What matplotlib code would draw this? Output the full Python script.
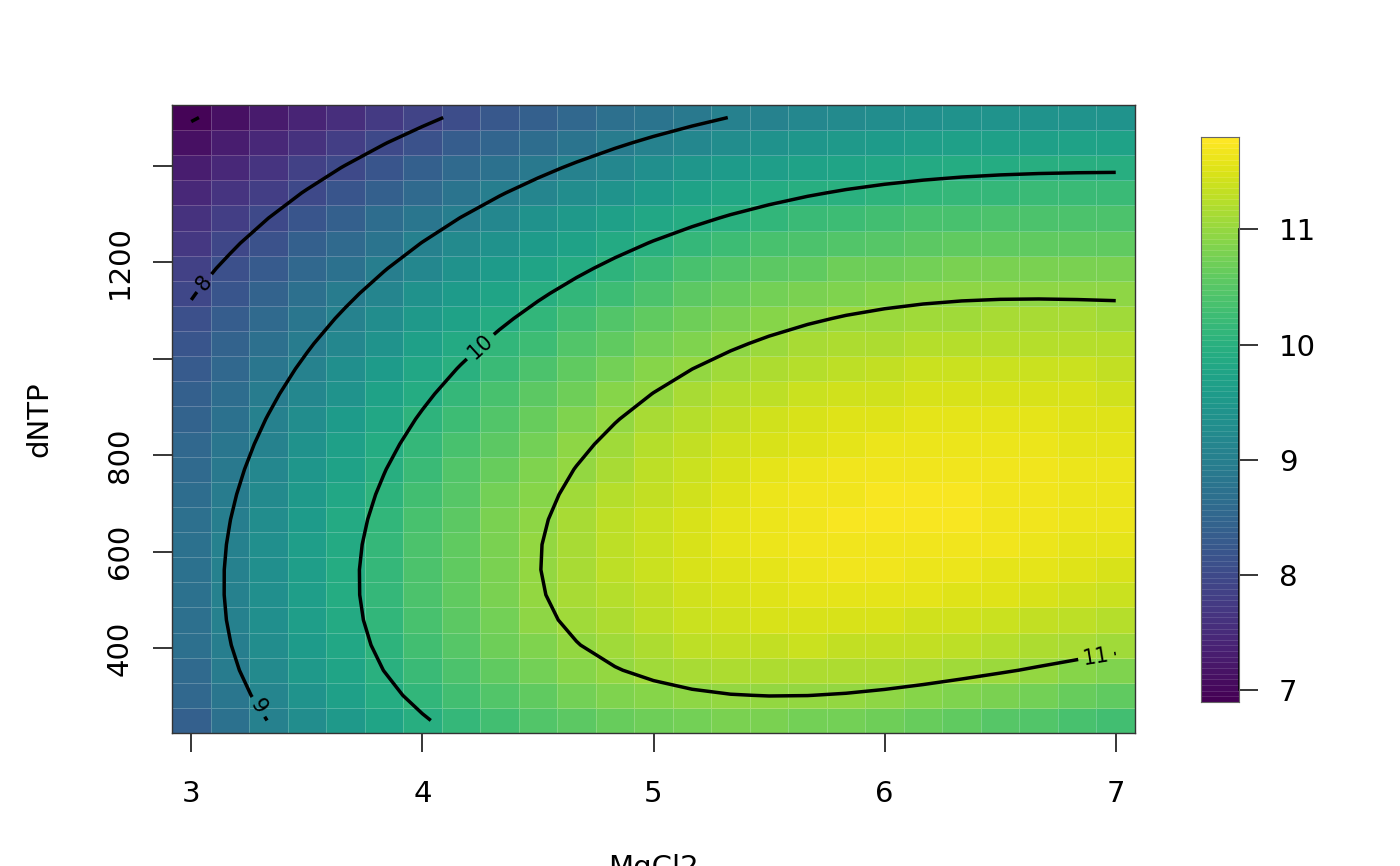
import numpy as np
import matplotlib
matplotlib.use("Agg")
import matplotlib.pyplot as plt
from matplotlib.colors import ListedColormap, Normalize

# ---------------- data ----------------
# grid of the response surface (cell centres)
mgcl2_range = (3.0, 7.0)
dntp_range = (250.0, 1500.0)
n_mgcl2 = 25
n_dntp = 25

# colour scale limits (from the colour key)
z_low, z_high = 6.90, 11.80
key_ticks = [7, 8, 9, 10, 11]

contour_levels = [7, 8, 9, 10, 11]

# points (MgCl2, dNTP)
lvl7_x = [2.999, 3.072]
lvl7_y = [1480, 1503]
lvl8_x = [3.000, 3.068, 3.298, 3.515, 3.731, 3.990]
lvl8_y = [1150, 1182, 1284, 1368, 1437, 1503]
lvl9_x = [3.325, 3.255, 3.176, 3.144, 3.161, 3.241, 3.385, 3.558, 3.904,
          4.250, 4.509, 4.759, 5.008, 5.308]
lvl9_y = [249, 304, 405, 516, 612, 751, 903, 1036, 1191, 1302, 1369, 1417,
          1460, 1502]
lvl10_x = [4.048, 3.846, 3.774, 3.742, 3.760, 3.832, 4.005, 4.214, 4.430,
           4.509, 4.842, 5.174, 5.507, 5.840, 6.172, 6.505, 6.754, 7.000]
lvl10_y = [252, 356, 439, 536, 647, 751, 869, 980, 1063, 1091, 1195, 1264,
           1313, 1347, 1372, 1385, 1390, 1388]
lvl11_x = [7.000, 6.846, 6.352, 5.895, 5.438, 5.018, 4.675, 4.567, 4.495,
           4.473, 4.488, 4.552, 4.616, 4.725, 4.853, 5.164, 5.490, 5.840,
           6.172, 6.626, 7.000]
lvl11_y = [408, 391, 349, 329, 322, 343, 408, 453, 509, 578, 668, 730, 765,
           827, 876, 969, 1043, 1091, 1126, 1140, 1134]

# values
spot_x = [6.0, 3.0, 7.0, 7.0, 3.0, 7.0, 5.0]
spot_y = [720, 1500, 250, 1500, 250, 770, 1500]
spot_z = [11.80, 6.90, 10.42, 9.40, 8.45, 11.53, 8.80]

# contour label anchor positions (on the 8, 9, 10 and 11 lines)
label_x = [3.035, 3.29, 4.28, 6.91]
label_y = [1165, 278, 1010, 399]

# ---------------- surface estimate from the readings ----------------
px, py, pz = [], [], []
for lv, xs, ys in [(7, lvl7_x, lvl7_y), (8, lvl8_x, lvl8_y), (9, lvl9_x, lvl9_y),
                   (10, lvl10_x, lvl10_y), (11, lvl11_x, lvl11_y)]:
    px += xs; py += ys; pz += [lv] * len(xs)
n_line = len(pz)
px += spot_x; py += spot_y; pz += spot_z
px, py, pz = np.array(px, float), np.array(py, float), np.array(pz, float)

PX_PER_X = 231.25      # screen pixels per MgCl2 unit
PX_PER_Y = 1 / 2.078   # screen pixels per dNTP unit


def design(x, y, deg=4):
    u = (x - 5.0) / 2.0
    v = (y - 875.0) / 625.0
    cols = [u ** i * v ** (d - i) for d in range(deg + 1) for i in range(d + 1)]
    return np.column_stack(cols)


def evaluate(c, x, y):
    return design(np.asarray(x, float), np.asarray(y, float)) @ c


# geometric (pixel-distance) weighting, refined iteratively
boost = np.ones(n_line)
boost[pz[:n_line] <= 8] = 1.8
boost[pz[:n_line] == 9] = 1.5
w = np.ones_like(pz) * 150.0
w[n_line:] = 150.0
for _ in range(6):
    coef, *_ = np.linalg.lstsq(design(px, py) * w[:, None], pz * w, rcond=None)
    gx = (evaluate(coef, px + 0.01, py) - evaluate(coef, px - 0.01, py)) / 0.02 / PX_PER_X
    gy = (evaluate(coef, px, py + 1.0) - evaluate(coef, px, py - 1.0)) / 2.0 / PX_PER_Y
    g = np.sqrt(gx ** 2 + gy ** 2)
    w[:n_line] = boost / np.clip(g[:n_line], 1e-3, None)

xg = np.linspace(*mgcl2_range, n_mgcl2)
yg = np.linspace(*dntp_range, n_dntp)
XX, YY = np.meshgrid(xg, yg)
ZZ = evaluate(coef, XX.ravel(), YY.ravel()).reshape(XX.shape)

dx = xg[1] - xg[0]
dy = yg[1] - yg[0]
xe = np.concatenate([xg - dx / 2, [xg[-1] + dx / 2]])
ye = np.concatenate([yg - dy / 2, [yg[-1] + dy / 2]])

# ---------------- drawing ----------------
plt.rcParams["font.family"] = ["DejaVu Sans"]
cmap = ListedColormap(plt.get_cmap("viridis")(np.linspace(0, 1, 100)))
norm = Normalize(z_low, z_high)

fig = plt.figure(figsize=(14, 8.66), dpi=100)
ax = fig.add_axes([172 / 1400, 1 - 733 / 866, (1135 - 172) / 1400, (733 - 105) / 866])

ax.pcolormesh(xe, ye, ZZ, cmap=cmap, norm=norm, shading="flat",
              edgecolors=(1, 1, 1, 0.22), linewidth=0.6)
cs = ax.contour(XX, YY, ZZ, levels=contour_levels, colors="black", linewidths=2.5)
ax.clabel(cs, manual=list(zip(label_x, label_y)),
          inline=True, fontsize=15, fmt="%d", inline_spacing=5)

ax.set_xlim(xe[0], xe[-1])
ax.set_ylim(ye[0], ye[-1])
ax.set_xticks([3, 4, 5, 6, 7])
ax.set_xticklabels(["3", "4", "5", "6", "7"], fontsize=21)
ax.set_yticks([400, 600, 800, 1000, 1200, 1400])
ax.set_yticklabels(["400", "600", "800", "", "1200", ""], fontsize=21,
                   rotation=90, va="center")
ax.tick_params(axis="both", direction="out", length=13.7, width=1.1, color="black")
ax.tick_params(axis="x", pad=20)
ax.tick_params(axis="y", pad=14)
for s in ax.spines.values():
    s.set_color("#333333")
    s.set_linewidth(1.0)

ax.set_xlabel("MgCl2", fontsize=21)
ax.xaxis.set_label_coords(0.5, -0.192)
ax.xaxis.label.set_va("top")
ax.set_ylabel("dNTP", fontsize=21)
ax.yaxis.set_label_coords(-0.138, 0.5)
ax.yaxis.label.set_va("center")

# colour key
cax = fig.add_axes([1201 / 1400, 1 - 702 / 866, 38 / 1400, (702 - 137) / 866])
kb = np.linspace(z_low, z_high, 101)
kv = (kb[:-1] + kb[1:]) / 2
cax.pcolormesh([0, 1], kb, kv[:, None], cmap=cmap, norm=norm,
               edgecolors=(1, 1, 1, 0.12), linewidth=0.4)
cax.set_xlim(0, 1)
cax.set_ylim(z_low, z_high)
cax.set_xticks([])
cax.yaxis.tick_right()
cax.set_yticks(key_ticks)
cax.set_yticklabels([str(t) for t in key_ticks], fontsize=21)
cax.tick_params(axis="y", direction="out", length=13.7, width=1.1, pad=15)
for s in cax.spines.values():
    s.set_color("#666666")
    s.set_linewidth(0.8)
cax.plot([1, 1], [key_ticks[0], key_ticks[-1]], color="black", lw=1.2,
         clip_on=False)

fig.savefig("out.png", dpi=100)
